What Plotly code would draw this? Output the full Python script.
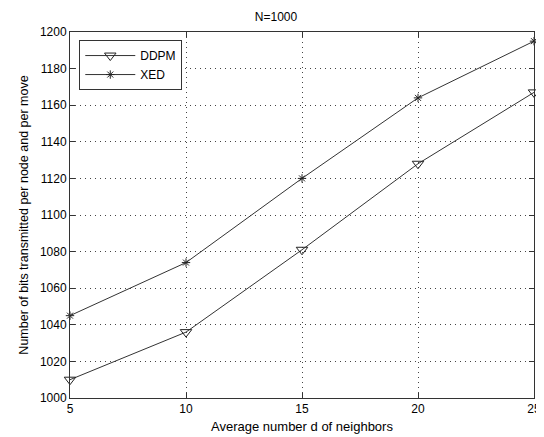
import plotly.graph_objects as go

x_vals = [5, 10, 15, 20, 25]
ddpm = [1010, 1036, 1081, 1128, 1167]
xed = [1045, 1074, 1120, 1164, 1195]
x_ticks = [5, 10, 15, 20, 25]
y_ticks = [1000, 1020, 1040, 1060, 1080, 1100, 1120, 1140, 1160, 1180, 1200]

fam = "Liberation Sans, Arial, sans-serif"
font = dict(family=fam, size=12, color="black")
tfont = dict(family=fam, size=12, color="black")
xtfont = dict(family=fam, size=13, color="black")
ytfont = dict(family=fam, size=12.5, color="black")

fig = go.Figure()
fig.add_trace(go.Scatter(x=x_vals, y=ddpm, name="DDPM", mode="lines+markers",
                         line=dict(color="#333", width=1),
                         marker=dict(symbol="triangle-down-open", size=10, color="#222", line=dict(width=1)),
                         cliponaxis=False))
fig.add_trace(go.Scatter(x=x_vals, y=xed, name="XED", mode="lines+markers",
                         line=dict(color="#333", width=1),
                         marker=dict(symbol="asterisk-open", size=7, color="#222", line=dict(width=1)),
                         cliponaxis=False))

axis_common = dict(showline=True, linecolor="#333", linewidth=1, mirror="ticks",
                   ticks="inside", ticklen=5, tickcolor="#333",
                   showgrid=True, gridcolor="#444", griddash="1px,4px", gridwidth=1,
                   zeroline=False, tickfont=tfont, automargin=False)

fig.update_layout(
    width=536, height=429,
    paper_bgcolor="white", plot_bgcolor="white",
    margin=dict(l=62, r=10, t=24, b=39),
    font=font,
    title=dict(text="N=1000", x=0.5, xanchor="center", y=0.979, yanchor="middle", font=font),
    xaxis=dict(axis_common, range=[5, 25], tickvals=x_ticks,
               title=dict(text="Average number d of neighbors", font=xtfont, standoff=6)),
    yaxis=dict(axis_common, range=[1000, 1200], tickvals=y_ticks,
               title=dict(text="Number of bits transmitted per node and per move", font=ytfont, standoff=8)),
    legend=dict(x=0.02, y=0.978, xanchor="left", yanchor="top",
                bgcolor="white", bordercolor="#333", borderwidth=1,
                font=tfont, tracegroupgap=0, itemwidth=50),
    showlegend=True,
)

fig.write_html("out.html")
